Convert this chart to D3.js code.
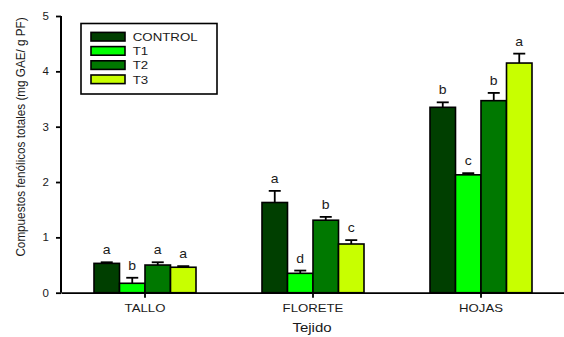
<!DOCTYPE html>
<html>
<head>
<meta charset="utf-8">
<script src="https://cdn.jsdelivr.net/npm/d3@7"></script>
<style>
  html, body { margin: 0; padding: 0; background: #fff; }
  svg { display: block; font-family: Arial, "Liberation Sans", sans-serif; }
</style>
</head>
<body>
<svg id="chart" width="564" height="337"></svg>
<script>
// Tissues on the x axis
const categories = ["TALLO", "FLORETE", "HOJAS"];
// Treatments
const series = ["CONTROL", "T1", "T2", "T3"];
// Mean total phenolics (mg GAE / g PF) per treatment, one value per tissue
const control = [0.53, 1.63, 3.35];
const t1 = [0.17, 0.35, 2.13];
const t2 = [0.50, 1.31, 3.47];
const t3 = [0.46, 0.88, 4.15];
// Standard errors (upper bars)
const controlErr = [0.02, 0.21, 0.09];
const t1Err = [0.10, 0.05, 0.03];
const t2Err = [0.05, 0.06, 0.14];
const t3Err = [0.02, 0.07, 0.17];
// Significance letters
const controlSig = ["a", "a", "b"];
const t1Sig = ["b", "d", "c"];
const t2Sig = ["a", "b", "b"];
const t3Sig = ["a", "c", "a"];
// Y axis ticks
const yTicks = [0, 1, 2, 3, 4, 5];

const values = [control, t1, t2, t3];
const errors = [controlErr, t1Err, t2Err, t3Err];
const letters = [controlSig, t1Sig, t2Sig, t3Sig];
const colors = ["#003f00", "#00ff00", "#007800", "#c8ff00"];

const svg = d3.select("#chart");
const squash = 0.88;       // vertical squash of all text glyphs
const inkColor = "#1a1a1a";

const x0 = d3.scaleBand().domain(categories).range([61, 565]).padding(0);
const x1 = d3.scaleBand().domain(series).range([0, x0.bandwidth()])
  .paddingInner(0).paddingOuter(1.294);
const y = d3.scaleLinear().domain([0, 5]).range([292.7, 16]);

// flattened bar records
const bars = [];
series.forEach((s, si) => {
  categories.forEach((c, ci) => {
    bars.push({ s, si, c, v: values[si][ci], e: errors[si][ci], l: letters[si][ci] });
  });
});

const gBars = svg.append("g");
gBars.selectAll("rect").data(bars).join("rect")
  .attr("x", d => x0(d.c) + x1(d.s))
  .attr("y", d => y(d.v))
  .attr("width", x1.bandwidth())
  .attr("height", d => y(0) - y(d.v))
  .attr("fill", d => colors[d.si])
  .attr("stroke", "#000")
  .attr("stroke-width", 1.6);

// upper error bars
const cx = d => x0(d.c) + x1(d.s) + x1.bandwidth() / 2;
const gErr = svg.append("g").attr("stroke", "#000").attr("stroke-width", 1.8);
gErr.selectAll("line.v").data(bars).join("line").attr("class", "v")
  .attr("x1", cx).attr("x2", cx)
  .attr("y1", d => y(d.v)).attr("y2", d => y(d.v + d.e));
gErr.selectAll("line.c").data(bars).join("line").attr("class", "c")
  .attr("x1", d => cx(d) - 6).attr("x2", d => cx(d) + 6)
  .attr("y1", d => y(d.v + d.e)).attr("y2", d => y(d.v + d.e));

// significance letters
svg.append("g").selectAll("text").data(bars).join("text")
  .attr("transform", d => `translate(${cx(d)},${y(d.v + d.e) - 8}) scale(1,${squash})`)
  .attr("text-anchor", "middle")
  .attr("font-size", 14)
  .attr("fill", inkColor)
  .text(d => d.l);

// axes
const yAxis = svg.append("g").attr("transform", "translate(61,0)")
  .call(d3.axisLeft(y).tickValues(yTicks).tickSize(5).tickPadding(7).tickFormat(d3.format("d")));
yAxis.select(".domain").attr("stroke-width", 2).attr("d", `M0,${y(5)}V${y(0)}`);
yAxis.selectAll(".tick line").attr("stroke-width", 1.8);
yAxis.selectAll(".tick text")
  .attr("font-size", 11.5).attr("fill", inkColor)
  .attr("font-family", "Arial, 'Liberation Sans', sans-serif")
  .attr("transform", `scale(1,${squash})`)
  .attr("y", function() { return 0; })
  .attr("dy", "0.35em");
// keep tick labels aligned with their ticks after squash
yAxis.selectAll(".tick").each(function(d) {
  const t = d3.select(this).select("text");
  t.attr("transform", null)
   .attr("transform", `scale(1,${squash})`);
});

const xAxis = svg.append("g").attr("transform", `translate(0,${y(0)})`)
  .call(d3.axisBottom(x0).tickSize(5).tickSizeOuter(0).tickPadding(9));
xAxis.select(".domain").attr("stroke-width", 1.8);
xAxis.selectAll(".tick line").attr("stroke-width", 1.8);
xAxis.selectAll(".tick text").remove();
xAxis.selectAll(".tick").append("text")
  .attr("transform", `translate(0,18.8) scale(1,${squash})`)
  .attr("text-anchor", "middle")
  .attr("font-size", 13.2)
  .attr("font-family", "Arial, 'Liberation Sans', sans-serif")
  .attr("fill", inkColor)
  .text(d => d);

// axis titles
svg.append("text")
  .attr("transform", `translate(${x0("FLORETE") + x0.bandwidth() / 2 - 1},332) scale(1,${squash})`)
  .attr("text-anchor", "middle")
  .attr("font-size", 15)
  .attr("fill", inkColor)
  .text("Tejido");

svg.append("text")
  .attr("transform", `translate(25,137) scale(1,${squash}) rotate(-90)`)
  .attr("text-anchor", "middle")
  .attr("font-size", 13.3)
  .attr("fill", inkColor)
  .text("Compuestos fenólicos totales (mg GAE/ g PF)");

// legend
const legend = svg.append("g");
legend.append("rect")
  .attr("x", 81).attr("y", 23.5).attr("width", 136).attr("height", 70.5)
  .attr("fill", "#fff").attr("stroke", "#000").attr("stroke-width", 1.6);
const rows = legend.selectAll("g.row").data(series).join("g").attr("class", "row")
  .attr("transform", (d, i) => `translate(0,${36.7 + i * 14.2})`);
rows.append("rect")
  .attr("x", 91).attr("y", -4.3).attr("width", 34).attr("height", 8.6)
  .attr("fill", (d, i) => colors[i]).attr("stroke", "#000").attr("stroke-width", 1.6);
rows.append("text")
  .attr("transform", `translate(132.7,4.3) scale(1,${squash})`)
  .attr("font-size", 13.3)
  .attr("fill", inkColor)
  .text(d => d);
</script>
</body>
</html>
